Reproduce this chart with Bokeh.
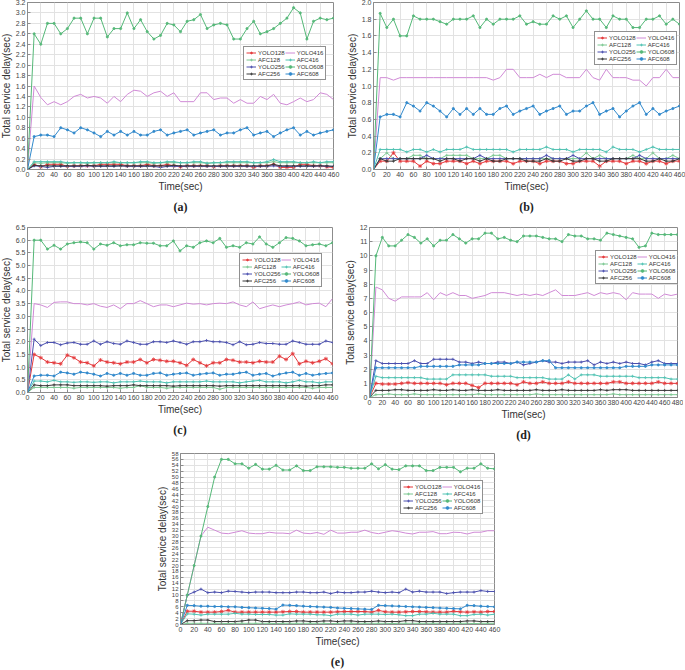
from bokeh.plotting import figure
from bokeh.models import FixedTicker, PrintfTickFormatter, Legend, LegendItem, Range1d, Spacer
from bokeh.layouts import column, row
from bokeh.embed import file_html
from bokeh.resources import INLINE

SERIES = ["YOLO128", "AFC128", "YOLO256", "AFC256", "YOLO416", "AFC416", "YOLO608", "AFC608"]

time_460 = list(range(0, 470, 10))
time_480 = list(range(0, 490, 10))

# ---------------- panel (a) ----------------
a_YOLO128 = [0, 0.1, 0.05, 0.1, 0.1, 0.1, 0.06, 0.07, 0.07, 0.07, 0.07, 0.1, 0.1, 0.1, 0.1, 0.07, 0.07, 0.07, 0.1, 0.07,
             0.07, 0.1, 0.07, 0.05, 0.07, 0.07, 0.07, 0.07, 0.05, 0.07, 0.07, 0.07, 0.07, 0.07, 0.04, 0.07, 0.07, 0.1, 0.04, 0.04,
             0.04, 0.1, 0.1, 0.07, 0.07, 0.05, 0.04]
a_AFC128 = [0, 0.13, 0.12, 0.13, 0.13, 0.13, 0.12, 0.13, 0.13, 0.12, 0.13, 0.13, 0.13, 0.13, 0.13, 0.13, 0.13, 0.13, 0.13, 0.12,
            0.13, 0.13, 0.13, 0.13, 0.13, 0.13, 0.13, 0.12, 0.13, 0.13, 0.13, 0.13, 0.13, 0.13, 0.13, 0.13, 0.13, 0.15, 0.13, 0.13,
            0.13, 0.13, 0.13, 0.13, 0.13, 0.13, 0.13]
a_YOLO256 = [0, 0.07, 0.06, 0.04, 0.06, 0.06, 0.06, 0.06, 0.06, 0.07, 0.06, 0.06, 0.06, 0.06, 0.07, 0.06, 0.06, 0.06, 0.06, 0.06,
             0.04, 0.06, 0.06, 0.06, 0.06, 0.06, 0.06, 0.06, 0.06, 0.06, 0.06, 0.06, 0.06, 0.06, 0.06, 0.06, 0.06, 0.07, 0.06, 0.06,
             0.06, 0.06, 0.06, 0.06, 0.07, 0.06, 0.06]
a_AFC256 = [0, 0.08, 0.07, 0.07, 0.07, 0.07, 0.07, 0.07, 0.07, 0.08, 0.07, 0.07, 0.07, 0.07, 0.07, 0.07, 0.07, 0.07, 0.07, 0.07,
            0.07, 0.07, 0.08, 0.07, 0.07, 0.07, 0.07, 0.07, 0.07, 0.07, 0.07, 0.07, 0.07, 0.07, 0.07, 0.07, 0.07, 0.1, 0.07, 0.07,
            0.07, 0.07, 0.07, 0.07, 0.07, 0.07, 0.06]
a_YOLO416 = [0, 1.6, 1.38, 1.24, 1.3, 1.24, 1.3, 1.4, 1.44, 1.37, 1.4, 1.37, 1.27, 1.4, 1.3, 1.44, 1.52, 1.5, 1.4, 1.47,
             1.5, 1.4, 1.47, 1.3, 1.3, 1.3, 1.47, 1.47, 1.34, 1.37, 1.37, 1.27, 1.34, 1.27, 1.27, 1.4, 1.34, 1.44, 1.27, 1.24,
             1.3, 1.37, 1.3, 1.34, 1.47, 1.44, 1.34]
a_AFC416 = [0, 0.15, 0.15, 0.15, 0.15, 0.15, 0.13, 0.13, 0.13, 0.13, 0.13, 0.13, 0.13, 0.15, 0.13, 0.13, 0.13, 0.15, 0.15, 0.13,
            0.13, 0.15, 0.15, 0.13, 0.13, 0.15, 0.15, 0.12, 0.13, 0.13, 0.15, 0.15, 0.15, 0.15, 0.13, 0.13, 0.15, 0.19, 0.15, 0.15,
            0.15, 0.13, 0.13, 0.15, 0.13, 0.15, 0.15]
a_YOLO608 = [0, 2.6, 2.4, 2.8, 2.8, 2.6, 2.7, 2.9, 2.9, 2.6, 2.9, 2.9, 2.54, 2.7, 2.7, 3.0, 2.7, 2.87, 2.64, 2.5,
             2.57, 2.8, 2.77, 2.64, 2.84, 2.87, 2.97, 2.7, 2.77, 2.8, 2.77, 2.5, 2.5, 2.7, 2.84, 2.6, 2.64, 2.7, 2.8, 2.9,
             3.1, 3.0, 2.5, 2.84, 2.9, 2.87, 2.9]
a_AFC608 = [0, 0.63, 0.66, 0.66, 0.63, 0.8, 0.76, 0.7, 0.8, 0.76, 0.7, 0.63, 0.73, 0.66, 0.73, 0.66, 0.73, 0.66, 0.66, 0.73,
            0.76, 0.66, 0.7, 0.73, 0.76, 0.66, 0.7, 0.73, 0.76, 0.66, 0.7, 0.7, 0.76, 0.8, 0.66, 0.7, 0.73, 0.63, 0.7, 0.76,
            0.8, 0.66, 0.73, 0.66, 0.7, 0.73, 0.76]

# ---------------- panel (b) ----------------
b_YOLO128 = [0, 0.1, 0.1, 0.2, 0.1, 0.1, 0.1, 0.04, 0.1, 0.07, 0.07, 0.1, 0.1, 0.1, 0.07, 0.1, 0.07, 0.1, 0.1, 0.1,
             0.1, 0.07, 0.1, 0.1, 0.1, 0.07, 0.1, 0.1, 0.1, 0.07, 0.07, 0.1, 0.1, 0.1, 0.04, 0.1, 0.1, 0.1, 0.07, 0.1,
             0.1, 0.07, 0.1, 0.1, 0.07, 0.1, 0.1]
b_AFC128 = [0, 0.13, 0.2, 0.13, 0.13, 0.13, 0.17, 0.17, 0.13, 0.13, 0.13, 0.17, 0.17, 0.17, 0.17, 0.13, 0.13, 0.13, 0.17, 0.17,
            0.13, 0.13, 0.13, 0.13, 0.13, 0.13, 0.13, 0.13, 0.13, 0.13, 0.13, 0.13, 0.2, 0.13, 0.17, 0.13, 0.13, 0.13, 0.13, 0.17,
            0.13, 0.13, 0.2, 0.13, 0.13, 0.17, 0.13]
b_YOLO256 = [0, 0.13, 0.13, 0.13, 0.13, 0.13, 0.13, 0.13, 0.17, 0.13, 0.13, 0.13, 0.13, 0.13, 0.13, 0.13, 0.17, 0.13, 0.13, 0.13,
             0.13, 0.13, 0.13, 0.13, 0.13, 0.13, 0.17, 0.13, 0.13, 0.13, 0.17, 0.13, 0.13, 0.13, 0.13, 0.13, 0.13, 0.13, 0.13, 0.13,
             0.17, 0.13, 0.13, 0.13, 0.13, 0.13, 0.13]
b_AFC256 = [0, 0.13, 0.1, 0.1, 0.13, 0.13, 0.13, 0.13, 0.13, 0.13, 0.1, 0.13, 0.13, 0.1, 0.13, 0.13, 0.1, 0.13, 0.1, 0.1,
            0.13, 0.13, 0.13, 0.1, 0.1, 0.1, 0.13, 0.1, 0.1, 0.13, 0.1, 0.1, 0.13, 0.13, 0.1, 0.1, 0.13, 0.13, 0.13, 0.13,
            0.13, 0.1, 0.1, 0.13, 0.1, 0.1, 0.13]
b_YOLO416 = [0, 1.1, 1.1, 1.07, 1.1, 1.1, 1.1, 1.1, 1.1, 1.1, 1.1, 1.1, 1.1, 1.1, 1.1, 1.1, 1.1, 1.1, 1.07, 1.1,
             1.2, 1.2, 1.1, 1.1, 1.1, 1.14, 1.1, 1.14, 1.14, 1.1, 1.1, 1.1, 1.2, 1.1, 1.07, 1.2, 1.1, 1.1, 1.1, 1.07,
             1.07, 1.0, 1.1, 1.1, 1.2, 1.1, 1.1]
b_AFC416 = [0, 0.24, 0.24, 0.24, 0.24, 0.21, 0.24, 0.24, 0.21, 0.24, 0.21, 0.24, 0.24, 0.24, 0.27, 0.24, 0.24, 0.24, 0.24, 0.24,
            0.24, 0.21, 0.24, 0.24, 0.24, 0.24, 0.27, 0.24, 0.24, 0.24, 0.21, 0.24, 0.24, 0.24, 0.24, 0.21, 0.27, 0.24, 0.24, 0.24,
            0.21, 0.24, 0.27, 0.24, 0.24, 0.24, 0.24]
b_YOLO608 = [0, 1.87, 1.7, 1.8, 1.6, 1.6, 1.84, 1.8, 1.8, 1.8, 1.77, 1.74, 1.8, 1.8, 1.8, 1.84, 1.7, 1.8, 1.74, 1.8,
             1.8, 1.8, 1.84, 1.74, 1.77, 1.74, 1.74, 1.84, 1.8, 1.84, 1.7, 1.8, 1.9, 1.8, 1.8, 1.7, 1.84, 1.8, 1.8, 1.7,
             1.7, 1.8, 1.8, 1.84, 1.74, 1.8, 1.74]
b_AFC608 = [0, 0.63, 0.66, 0.66, 0.63, 0.8, 0.76, 0.7, 0.8, 0.76, 0.7, 0.63, 0.73, 0.66, 0.73, 0.66, 0.73, 0.66, 0.66, 0.73,
            0.76, 0.66, 0.7, 0.73, 0.76, 0.66, 0.7, 0.73, 0.76, 0.66, 0.7, 0.7, 0.76, 0.8, 0.66, 0.7, 0.73, 0.63, 0.7, 0.76,
            0.8, 0.66, 0.73, 0.66, 0.7, 0.73, 0.76]

# ---------------- panel (c) ----------------
c_YOLO128 = [0, 1.5, 1.37, 1.2, 1.17, 1.13, 1.47, 1.37, 1.2, 1.17, 1.05, 1.28, 1.2, 1.17, 1.13, 1.2, 1.2, 1.3, 1.17, 1.3,
             1.27, 1.23, 1.23, 1.17, 1.07, 1.3, 1.17, 1.05, 1.17, 1.17, 1.3, 1.27, 1.2, 1.2, 1.17, 1.23, 1.2, 1.2, 1.43, 1.3,
             1.53, 1.13, 1.23, 1.17, 1.23, 1.33, 1.13]
c_AFC128 = [0, 0.2, 0.2, 0.2, 0.2, 0.2, 0.2, 0.17, 0.2, 0.2, 0.2, 0.2, 0.2, 0.2, 0.17, 0.2, 0.2, 0.27, 0.2, 0.2,
            0.2, 0.17, 0.2, 0.2, 0.2, 0.2, 0.2, 0.2, 0.2, 0.13, 0.2, 0.2, 0.2, 0.2, 0.2, 0.2, 0.2, 0.2, 0.2, 0.2,
            0.2, 0.2, 0.2, 0.17, 0.2, 0.2, 0.2]
c_YOLO256 = [0, 2.1, 1.85, 1.97, 1.97, 1.88, 1.95, 1.97, 1.9, 1.9, 2.03, 1.9, 2.0, 1.93, 1.9, 2.03, 1.97, 1.9, 1.9, 2.0,
             2.0, 1.97, 2.03, 1.97, 1.9, 2.0, 2.0, 2.05, 2.0, 2.0, 1.97, 1.88, 2.0, 1.88, 1.9, 1.97, 1.93, 1.93, 1.9, 1.9,
             2.03, 1.97, 1.9, 1.9, 1.9, 2.03, 1.97]
c_AFC256 = [0, 0.3, 0.27, 0.27, 0.3, 0.3, 0.3, 0.27, 0.27, 0.27, 0.27, 0.27, 0.25, 0.27, 0.27, 0.27, 0.3, 0.27, 0.27, 0.27,
            0.27, 0.27, 0.25, 0.27, 0.27, 0.27, 0.27, 0.27, 0.27, 0.25, 0.27, 0.27, 0.27, 0.27, 0.27, 0.27, 0.27, 0.27, 0.27, 0.27,
            0.27, 0.27, 0.25, 0.27, 0.27, 0.3, 0.3]
c_YOLO416 = [0, 3.5, 3.45, 3.35, 3.55, 3.57, 3.57, 3.5, 3.5, 3.45, 3.5, 3.4, 3.35, 3.45, 3.3, 3.5, 3.5, 3.62, 3.5, 3.38,
             3.45, 3.45, 3.38, 3.45, 3.52, 3.48, 3.5, 3.45, 3.5, 3.52, 3.5, 3.57, 3.45, 3.38, 3.57, 3.3, 3.38, 3.45, 3.38, 3.45,
             3.5, 3.57, 3.45, 3.5, 3.52, 3.38, 3.7]
c_AFC416 = [0, 0.45, 0.45, 0.42, 0.48, 0.42, 0.42, 0.4, 0.42, 0.42, 0.4, 0.42, 0.42, 0.38, 0.42, 0.42, 0.42, 0.45, 0.42, 0.42,
            0.42, 0.38, 0.42, 0.42, 0.42, 0.42, 0.42, 0.45, 0.42, 0.42, 0.42, 0.42, 0.38, 0.42, 0.45, 0.48, 0.42, 0.42, 0.42, 0.38,
            0.42, 0.48, 0.42, 0.42, 0.38, 0.42, 0.42]
c_YOLO608 = [0, 6.0, 6.0, 5.65, 5.8, 5.65, 5.85, 5.9, 5.93, 5.9, 5.65, 5.85, 5.8, 5.9, 5.78, 5.82, 5.82, 5.9, 5.88, 5.88,
             5.78, 5.78, 5.97, 5.58, 5.78, 5.72, 5.9, 5.97, 5.9, 6.07, 5.72, 5.78, 5.72, 5.9, 5.85, 6.13, 5.85, 5.72, 5.9, 6.1,
             6.07, 5.97, 5.78, 5.82, 5.85, 5.78, 5.9]
c_AFC608 = [0, 0.65, 0.68, 0.68, 0.65, 0.8, 0.77, 0.72, 0.8, 0.77, 0.72, 0.65, 0.75, 0.68, 0.75, 0.68, 0.75, 0.68, 0.68, 0.75,
            0.77, 0.68, 0.72, 0.75, 0.77, 0.68, 0.72, 0.75, 0.77, 0.68, 0.72, 0.72, 0.77, 0.8, 0.68, 0.72, 0.75, 0.65, 0.72, 0.77,
            0.8, 0.68, 0.75, 0.68, 0.72, 0.75, 0.77]

# ---------------- panel (d) ----------------
d_YOLO128 = [0, 1.0, 0.95, 0.95, 0.95, 1.0, 1.05, 1.0, 1.0, 1.0, 1.0, 1.0, 0.9, 1.0, 1.0, 1.0, 0.85, 0.7, 1.0, 1.0,
             1.0, 1.0, 1.0, 0.9, 1.1, 1.0, 1.0, 1.1, 1.0, 1.0, 1.0, 1.1, 1.0, 1.0, 1.0, 1.0, 1.0, 1.0, 1.1, 1.1,
             1.0, 1.0, 1.0, 1.0, 1.0, 1.1, 1.0, 1.0, 1.0]
d_AFC128 = [0, 0.2, 0.2, 0.25, 0.2, 0.2, 0.2, 0.25, 0.2, 0.2, 0.2, 0.2, 0.2, 0.2, 0.2, 0.2, 0.2, 0.25, 0.2, 0.2,
            0.2, 0.2, 0.2, 0.2, 0.2, 0.2, 0.25, 0.2, 0.2, 0.2, 0.2, 0.2, 0.2, 0.2, 0.2, 0.2, 0.2, 0.2, 0.25, 0.2,
            0.2, 0.2, 0.2, 0.2, 0.2, 0.2, 0.2, 0.2, 0.2]
d_YOLO256 = [0, 2.6, 2.4, 2.4, 2.4, 2.4, 2.4, 2.6, 2.4, 2.4, 2.7, 2.7, 2.7, 2.7, 2.5, 2.5, 2.4, 2.5, 2.4, 2.4,
             2.5, 2.5, 2.4, 2.5, 2.3, 2.4, 2.5, 2.6, 2.5, 2.5, 2.4, 2.5, 2.5, 2.5, 2.6, 2.3, 2.5, 2.4, 2.5, 2.4,
             2.5, 2.4, 2.4, 2.3, 2.5, 2.6, 2.4, 2.4, 2.4]
d_AFC256 = [0, 0.5, 0.5, 0.5, 0.55, 0.55, 0.5, 0.5, 0.5, 0.5, 0.55, 0.5, 0.5, 0.55, 0.5, 0.5, 0.55, 0.5, 0.5, 0.5,
            0.55, 0.5, 0.5, 0.5, 0.5, 0.5, 0.55, 0.5, 0.5, 0.5, 0.55, 0.5, 0.5, 0.5, 0.5, 0.5, 0.55, 0.5, 0.55, 0.55,
            0.55, 0.5, 0.5, 0.5, 0.5, 0.5, 0.5, 0.5, 0.5]
d_YOLO416 = [0, 7.8, 7.6, 7.0, 6.8, 7.1, 7.1, 7.1, 7.1, 7.4, 6.9, 7.4, 7.2, 7.4, 7.2, 7.2, 7.0, 7.1, 7.2, 7.4,
             7.4, 7.4, 7.3, 7.2, 7.3, 7.2, 7.3, 7.2, 7.4, 7.6, 7.2, 7.2, 7.2, 7.3, 7.4, 7.2, 7.4, 7.3, 7.4, 7.3,
             6.9, 7.4, 7.3, 7.3, 7.3, 7.0, 7.3, 7.2, 7.3]
d_AFC416 = [0, 1.5, 1.4, 1.4, 1.4, 1.4, 1.4, 1.4, 1.4, 1.3, 1.3, 1.3, 1.3, 1.6, 1.6, 1.6, 1.6, 1.6, 1.6, 1.5,
            1.5, 1.5, 1.5, 1.4, 1.4, 1.4, 1.4, 1.4, 1.3, 1.3, 1.3, 1.6, 1.3, 1.6, 1.6, 1.6, 1.5, 1.5, 1.5, 1.5,
            1.5, 1.5, 1.4, 1.4, 1.4, 1.4, 1.4, 1.3, 1.3]
d_YOLO608 = [0, 10.0, 11.3, 10.7, 10.7, 11.1, 11.5, 11.3, 10.9, 11.2, 10.7, 11.1, 11.1, 11.5, 11.2, 10.9, 11.2, 11.2, 11.6, 11.6,
             11.2, 11.3, 11.1, 11.0, 11.4, 11.4, 11.4, 11.3, 11.2, 11.2, 11.0, 11.5, 11.4, 11.4, 11.2, 11.2, 11.1, 11.6, 11.5, 11.4,
             11.3, 11.2, 10.6, 10.7, 11.6, 11.5, 11.5, 11.5, 11.5]
d_AFC608 = [0, 2.1, 2.1, 2.1, 2.1, 2.1, 2.1, 2.1, 2.2, 2.2, 2.2, 2.2, 2.2, 2.2, 2.3, 2.3, 2.3, 2.3, 2.4, 2.4,
            2.4, 2.4, 2.4, 2.5, 2.5, 2.5, 2.5, 2.6, 2.6, 2.1, 2.1, 2.1, 2.1, 2.1, 2.1, 2.1, 2.1, 2.1, 2.1, 2.1,
            2.2, 2.2, 2.2, 2.2, 2.3, 2.3, 2.3, 2.3, 2.3]

# ---------------- panel (e) ----------------
e_YOLO128 = [0, 4.5, 4.5, 4.2, 4.2, 4.2, 4.4, 4.8, 4.2, 4.2, 4.2, 4.2, 4.2, 4.2, 4.2, 4.3, 4.4, 4.4, 4.2, 4.2,
             4.2, 4.2, 4.2, 4.3, 4.4, 4.4, 4.4, 4.4, 4.2, 4.8, 4.3, 4.2, 4.2, 4.3, 4.4, 4.4, 4.3, 4.2, 4.2, 4.2,
             4.5, 4.3, 4.2, 4.3, 4.2, 4.4, 4.4]
e_AFC128 = [0, 0.4, 0.4, 0.4, 0.4, 0.4, 0.4, 0.3, 0.4, 0.4, 0.4, 0.4, 0.4, 0.4, 0.3, 0.4, 0.4, 0.4, 0.4, 0.4,
            0.4, 0.4, 0.3, 0.4, 0.4, 0.4, 0.4, 0.4, 0.4, 0.4, 0.4, 0.3, 0.4, 0.4, 0.4, 0.4, 0.4, 0.4, 0.4, 0.4,
            0.4, 0.4, 0.4, 0.3, 0.4, 0.4, 0.4]
e_YOLO256 = [0, 10, 11, 12, 10.8, 11, 10.8, 11.3, 11.2, 11, 10.8, 11, 11, 11, 10.8, 10.8, 10.8, 11, 11, 10.8,
             10.8, 11, 10.5, 11, 10.8, 10.8, 11, 11, 11.3, 11, 10.8, 11, 10.8, 12, 11, 11.3, 11, 11, 11, 10.5,
             10.8, 11, 11, 11, 11.5, 11.2, 11.2]
e_AFC256 = [0, 1.3, 1.3, 1.5, 1.5, 1.0, 1.0, 1.0, 1.0, 1.2, 1.5, 1.5, 1.0, 1.0, 1.0, 1.0, 1.0, 1.2, 1.2, 1.0,
            1.0, 1.2, 1.2, 1.0, 1.2, 1.2, 1.0, 1.0, 1.0, 1.2, 1.0, 1.0, 1.0, 1.3, 1.3, 1.0, 1.0, 1.0, 1.0, 1.0,
            1.0, 1.0, 1.2, 1.2, 1.0, 1.0, 1.0]
e_YOLO416 = [0, 10, 20, 30, 33, 32, 31, 30.8, 31.3, 31.8, 31, 30.8, 30.8, 31.3, 31, 31, 30.8, 32, 31, 30.8,
             31.2, 30.6, 32, 31, 31, 31.3, 31.3, 32, 31.2, 30.8, 31.3, 31.8, 31.5, 31, 30.7, 31.3, 31.3, 31.5, 30.8, 30.8,
             31.3, 31.2, 30.7, 31.3, 31.3, 31.8, 31.8]
e_AFC416 = [0, 3.6, 3.5, 3.2, 3.5, 3.5, 3.5, 3.5, 3.8, 3.5, 3.5, 3.4, 3.4, 3.4, 3.2, 3.2, 3.6, 3.5, 3.5, 3.5,
            3.3, 3.3, 3.0, 3.5, 3.5, 3.5, 3.2, 3.5, 3.5, 3.5, 3.4, 3.5, 3.3, 3.0, 3.0, 3.5, 3.5, 3.8, 3.5, 3.5,
            3.5, 3.0, 3.0, 3.4, 3.5, 3.2, 3.5]
e_YOLO608 = [0, 10, 20, 30, 40, 50, 56, 56, 54.5, 54.5, 53, 54.3, 52.7, 52.7, 54, 52.4, 52.4, 53.8, 52.2, 52.2,
             53.5, 53.5, 53.5, 53.3, 53.3, 53, 53, 53, 54.5, 52.8, 54.2, 52.7, 52.5, 53.8, 53.8, 53.8, 52.2, 52.2, 53.3, 53.3,
             53.3, 51.8, 53, 53, 54.5, 53, 52.8]
e_AFC608 = [0, 6.5, 6.4, 6.2, 6.2, 6.1, 6.1, 6, 6, 5.8, 5.7, 5.6, 5.5, 5.4, 5.2, 6.6, 6.5, 6.4, 6.2, 6.1,
            6, 5.9, 5.8, 5.6, 5.5, 5.4, 5.3, 5.2, 5.1, 6.5, 6.4, 6.3, 6.2, 6.1, 6, 5.9, 5.8, 5.7, 5.6, 5.5,
            5.4, 5.3, 6.5, 6.4, 6.2, 6.1, 6.0]

# tick lists
x_ticks_460 = list(range(0, 461, 20))
x_ticks_480 = list(range(0, 481, 20))
a_yticks = [round(0.2 * i, 1) for i in range(17)]
b_yticks = [round(0.2 * i, 1) for i in range(11)]
c_yticks = [round(0.5 * i, 1) for i in range(14)]
d_yticks = list(range(0, 13))
e_yticks = list(range(0, 59, 2))

COLORS = {"YOLO128": "#e5383b", "AFC128": "#7cc892", "YOLO256": "#4a4fae", "AFC256": "#3a3a3a",
          "YOLO416": "#d08ad6", "AFC416": "#4fc2b2", "YOLO608": "#55b878", "AFC608": "#3189cc"}
MARKERS = {"YOLO128": ("asterisk", 4), "AFC128": ("cross", 3), "YOLO256": ("cross", 3), "AFC256": ("cross", 3),
           "YOLO416": (None, 0), "AFC416": ("cross", 3), "YOLO608": ("circle", 2.2), "AFC608": ("circle", 2.2)}

FONT = "Liberation Sans"


def panel(data, times, xmax, xticks, ymax, yticks, yfmt, fw, fh, bl, br, bt, bb, leg_loc, title, ylab_size="7px"):
    p = figure(frame_width=fw, frame_height=fh, x_range=Range1d(0, xmax), y_range=Range1d(0, ymax),
               output_backend="svg", toolbar_location=None, title=title, title_location="below",
               min_border_left=bl, min_border_right=br, min_border_top=bt, min_border_bottom=bb,
               background_fill_color="white", border_fill_color="white")
    p.title.align = "center"
    p.title.text_font = "Liberation Serif"
    p.title.text_font_style = "bold"
    p.title.text_font_size = "12px"
    p.title.text_color = "#222222"
    p.title.standoff = 6
    p.outline_line_color = "#8c8c8c"
    p.grid.grid_line_color = "#e2e2e2"
    p.xaxis.ticker = FixedTicker(ticks=xticks)
    p.yaxis.ticker = FixedTicker(ticks=yticks)
    p.yaxis.formatter = PrintfTickFormatter(format=yfmt)
    p.xaxis.axis_label = "Time(sec)"
    p.yaxis.axis_label = "Total service delay(sec)"
    for ax in (p.xaxis[0], p.yaxis[0]):
        ax.axis_label_text_font = FONT
        ax.axis_label_text_font_style = "normal"
        ax.axis_label_text_font_size = "10px"
        ax.axis_label_text_color = "#333333"
        ax.major_label_text_font = FONT
        ax.major_label_text_color = "#444444"
        ax.axis_line_color = "#8c8c8c"
        ax.major_tick_line_color = "#8c8c8c"
        ax.major_tick_in = 3
        ax.major_tick_out = 0
        ax.minor_tick_line_color = None
        ax.major_label_standoff = 2
        ax.axis_label_standoff = 1
    p.xaxis.major_label_text_font_size = "7px"
    p.yaxis.major_label_text_font_size = ylab_size

    items = []
    for name in SERIES:
        y = data[name]
        x = times[:len(y)]
        col = COLORS[name]
        rs = [p.line(x, y, line_color=col, line_width=1)]
        mk, sz = MARKERS[name]
        if mk:
            rs.append(p.scatter(x, y, marker=mk, size=sz, line_color=col, fill_color=col, line_width=0.8))
        items.append(LegendItem(label=name, renderers=rs))
    leg = Legend(items=items, location=leg_loc, nrows=4, orientation="vertical",
                 label_text_font=FONT, label_text_font_size="6px", label_text_color="#333333",
                 label_height=7, glyph_height=7, glyph_width=10, label_standoff=2, spacing=0,
                 padding=2, margin=0, border_line_color="#222222", border_line_width=0.7,
                 background_fill_alpha=1.0)
    p.add_layout(leg, "center")
    return p


def pack(prefix):
    g = globals()
    return {name: g[prefix + name] for name in SERIES}


pa = panel(pack("a_"), time_460, 460, x_ticks_460, 3.2, a_yticks, "%.1f", 306, 167, 21, 10, 5, 46, (216, 89), "(a)")
pb = panel(pack("b_"), time_460, 460, x_ticks_460, 2.0, b_yticks, "%.1f", 306, 167, 27, 8, 5, 46, (221, 104), "(b)")
pc = panel(pack("c_"), time_460, 460, x_ticks_460, 6.5, c_yticks, "%.1f", 305, 165, 23, 9, 11, 46, (212, 105), "(c)")
pd = panel(pack("d_"), time_480, 480, x_ticks_480, 12, d_yticks, "%d", 308, 170, 27, 6, 10, 42, (226, 113), "(d)")
pe = panel(pack("e_"), time_460, 460, x_ticks_460, 58, e_yticks, "%d", 314, 171, 28, 8, 10, 40, (220, 110), "(e)",
           ylab_size="6px")

layout = column(row(pa, pb), row(pc, pd), row(Spacer(width=155, height=10), pe), margin=(-3, 0, 0, -3))

open("out.html", "w").write(file_html(layout, INLINE))
